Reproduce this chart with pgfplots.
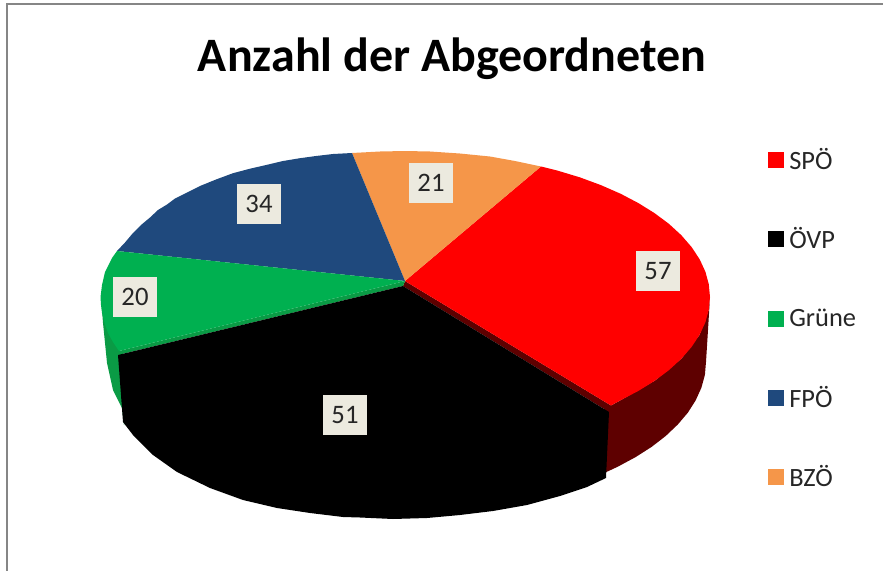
\documentclass[border=0pt]{standalone}
\usepackage{fontspec}
\setmainfont{Carlito}
\usepackage{pgfplots}
\pgfplotsset{compat=1.18}
\definecolor{cRed}{HTML}{FF0000}
\definecolor{cDRed}{HTML}{5E0000}
\definecolor{cGreen}{HTML}{00B050}
\definecolor{cDGreen}{HTML}{0A9B45}
\definecolor{cBlue}{HTML}{1F497D}
\definecolor{cOrange}{HTML}{F59649}
\definecolor{cBox}{HTML}{ECEADF}
\definecolor{cFrame}{HTML}{868686}
\tikzset{
  poly/.style={draw=none,mark=none,fill=#1},
  lab/.style={fill=cBox,text=black!85,inner sep=0pt,minimum width=32.5pt,minimum height=30pt,font=\fontsize{20}{24}\selectfont},
  leg/.style={anchor=west,inner sep=0pt,text=black!85,font=\fontsize{19.8}{24}\selectfont},
}
\begin{document}
\begin{tikzpicture}[x=1pt,y=1pt]
\path[use as bounding box] (0,0) rectangle (662.25pt,428.25pt);
\begin{axis}[
  at={(0,0)},anchor=south west,
  scale only axis,width=662.25pt,height=428.25pt,
  xmin=0,xmax=883,ymin=0,ymax=571,y dir=reverse,
  hide axis,clip=false,
]
% frame
\addplot[draw=cFrame,line width=1.5pt,mark=none] coordinates {(7,571) (7,4) (883,4)};
% red side
\addplot[poly=cDRed] coordinates {(710,297) (708.8,309.7) (699.6,334.8) (681.4,358.7) (654.8,380.7) (620.7,400.2) (611,405.5) (600,412) (600,476)
 (606.4,472) (617.8,466.7) (635.6,457.1) (651.6,446.9) (665.7,436) (677.8,424.5) (687.9,412.6) (695.7,400.3) (701.4,387.7) (704.9,374.9) (706,362) (708,330)} -- cycle;
% green side
\addplot[poly=cDGreen] coordinates {(101,297) (103,323) (107,363) (113,390) (122,408) (124,425) (140,380) (119,351)} -- cycle;
% strips
\addplot[poly=cDRed] coordinates {(405,281) (611,405.5) (609,412) (403,286)} -- cycle;
\addplot[poly=cDGreen] coordinates {(119,351) (405,281) (403,286) (118,355)} -- cycle;
% red top
\addplot[poly=cRed] coordinates {(405,281) (541,166.5) (557.5,170.6) (580,177.4) (601.1,185.2) (620.7,193.8) (638.6,203.2) (654.8,213.3) (669.1,224) (681.4,235.3) (691.6,247.1) (699.6,259.2) (705.4,271.7) (708.8,284.3) (710,297)
 (708.8,309.7) (705.4,322.3) (699.6,334.8) (691.6,346.9) (681.4,358.7) (669.1,370) (654.8,380.7) (638.6,390.8) (620.7,400.2) (611,405.5)} -- cycle;
% orange top
\addplot[poly=cOrange] coordinates {(405,281) (352,153) (380,151.5) (405,151) (430,151.5) (460,153.5) (490,156.5) (515,161) (541,166.5)} -- cycle;
% blue top
\addplot[poly=cBlue] coordinates {(405,281) (117,251) (125,242.5) (133,233) (141,225) (150,217.5) (158,210) (167,204.5) (175,198.5) (183,194.5) (192,190) (200,186) (216,179.5) (233,173.2) (250,168.7) (267,164.8) (283,161) (300,158.2) (316,156) (333,154) (352,153)} -- cycle;
% green top
\addplot[poly=cGreen] coordinates {(405,281) (119,351) (113,342) (108,333) (104.5,323) (102,313) (101,305) (100.5,297) (102,285) (105,272) (112,258) (117,251)} -- cycle;
% black
\addplot[poly=black] coordinates {(403,286) (609,412) (606,478) (587,487) (560,496) (527,505) (493,511) (460,515) (427,518) (393,519) (360,517.5) (343,517) (310,513) (277,508) (243,500) (210,488) (177,472) (153,455) (133,435) (123,422) (118,355)} -- cycle;
% legend keys
\addplot[only marks,mark=square*,mark size=5.5pt,color=cRed] coordinates {(776,160)};
\addplot[only marks,mark=square*,mark size=5.5pt,color=black] coordinates {(776,239)};
\addplot[only marks,mark=square*,mark size=5.5pt,color=cGreen] coordinates {(776,319)};
\addplot[only marks,mark=square*,mark size=5.5pt,color=cBlue] coordinates {(776,398)};
\addplot[only marks,mark=square*,mark size=5.5pt,color=cOrange] coordinates {(776,477)};
% data labels
\node[lab] at (axis cs:658,271) {57};
\node[lab] at (axis cs:345,415) {51};
\node[lab] at (axis cs:135,297) {20};
\node[lab] at (axis cs:259,204) {34};
\node[lab] at (axis cs:431,183) {21};
% legend text
\node[leg] at (axis cs:789,159) {SPÖ};
\node[leg] at (axis cs:789,238) {ÖVP};
\node[leg] at (axis cs:789,318) {Grüne};
\node[leg] at (axis cs:789,397) {FPÖ};
\node[leg] at (axis cs:789,476) {BZÖ};
% title
\node[font=\fontsize{36}{42}\selectfont\bfseries,inner sep=0pt] at (axis cs:452,58.5) {Anzahl der Abgeordneten};
\end{axis}
\end{tikzpicture}
\end{document}
